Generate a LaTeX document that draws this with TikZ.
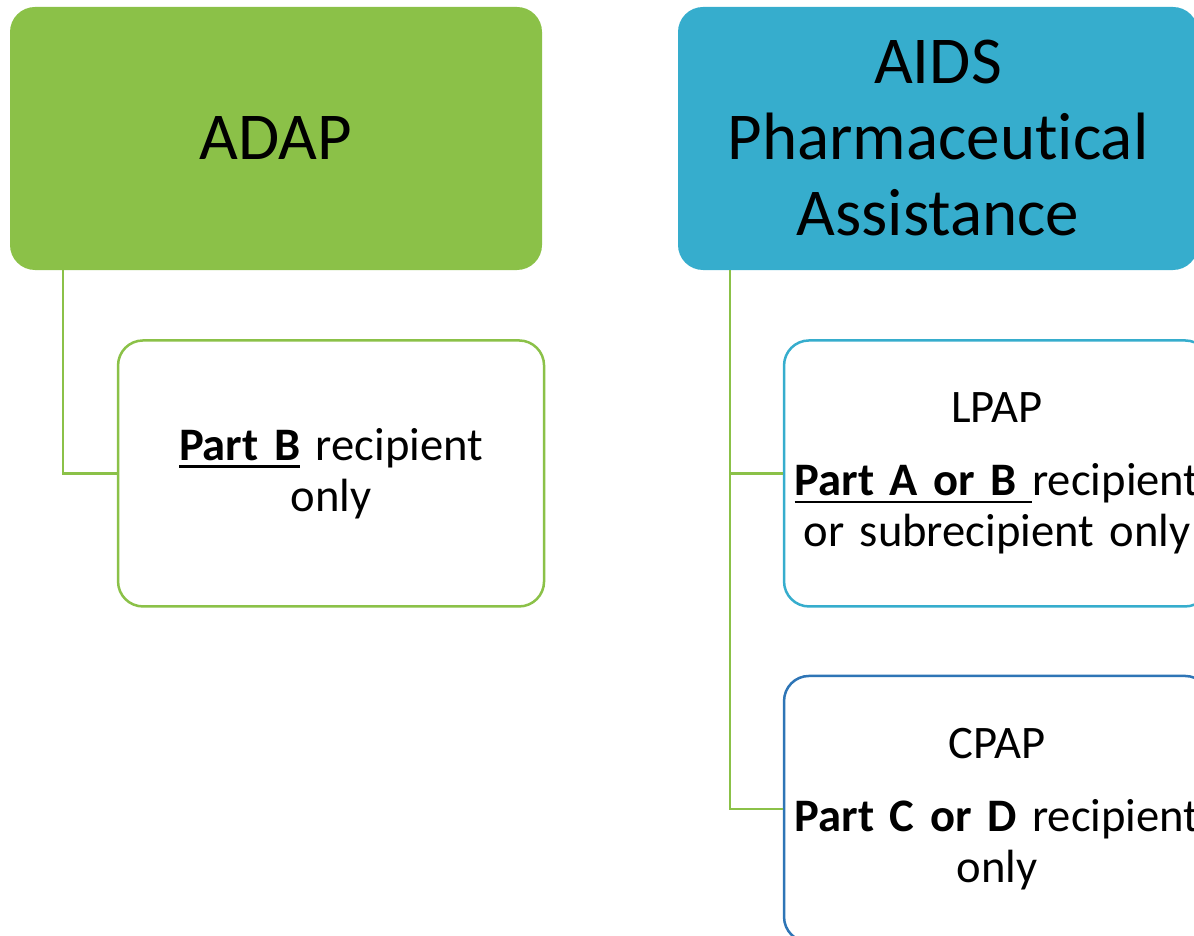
\documentclass[tikz,border=0pt]{standalone}
\usepackage{fontspec}
\setmainfont{Carlito}[Ligatures=NoCommon]
\usetikzlibrary{positioning}

\definecolor{adapgreen}{RGB}{139,193,72}
\definecolor{aidsblue}{RGB}{54,173,205}
\definecolor{cpapblue}{RGB}{46,117,182}

\newcommand{\undl}[1]{\leavevmode\setbox0\hbox{#1}\rlap{\rule[-7.5pt]{\wd0}{2.5pt}}\box0\relax}

\begin{document}
\begin{tikzpicture}[x=1pt, y=1pt]
    \tikzset{
        headbox/.style = {rectangle, rounded corners=25pt, inner sep=0pt, minimum height=263pt, align=center, font=\fontsize{67}{76}\selectfont},
        subbox/.style = {rectangle, draw, line width=2.5pt, fill=white, rounded corners=25pt, inner sep=0pt, minimum width=426pt, minimum height=266pt, text width=420pt, align=center, font=\fontsize{46.6}{51}\selectfont},
        link/.style = {draw=adapgreen, line width=2.5pt}
    }
    \useasboundingbox (0,0) rectangle (1194,-936);

    % top level
    \node[headbox, fill=adapgreen, minimum width=532pt](adap) at (276,-138.5){ADAP};
    \node[headbox, fill=aidsblue, minimum width=520pt](aids) at (938,-138.5){AIDS\\Pharmaceutical\\Assistance};

    % second level
    \node[subbox, draw=adapgreen, below right = 69pt and 107pt of adap.south west](partb){\undl{\textbf{Part B}} recipient\\only};
    \node[subbox, draw=aidsblue, below right = 69pt and 105pt of aids.south west](lpap){LPAP\\[22pt]\undl{\textbf{Part A or B }}recipient\\or subrecipient only};
    \node[subbox, draw=cpapblue, below = 67pt of lpap](cpap){CPAP\\[22pt]\textbf{Part C or D} recipient\\only};

    \path [link] ([xshift=53pt]adap.south west) |- (partb.west);
    \path [link] ([xshift=52pt]aids.south west) |- (lpap.west);
    \path [link] ([xshift=52pt]aids.south west) |- (cpap.west);

\end{tikzpicture}
\end{document}
